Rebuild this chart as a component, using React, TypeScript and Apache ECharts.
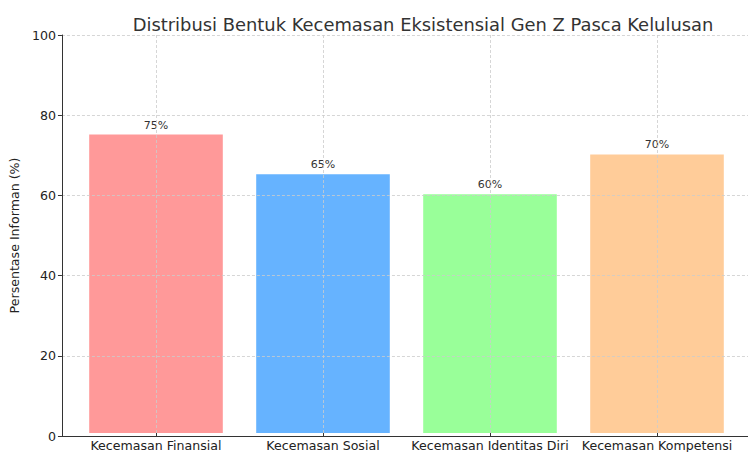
import React, { useEffect, useRef } from "react";
import * as echarts from "echarts";

const categories = [
  "Kecemasan Finansial",
  "Kecemasan Sosial",
  "Kecemasan Identitas Diri",
  "Kecemasan Kompetensi",
];
const values = [75, 65, 60, 70];
const barColors = ["#ff9999", "#66b3ff", "#99ff99", "#ffcc99"];
const yTicks = [0, 20, 40, 60, 80, 100];

const FONT = "DejaVu Sans";

export default function App() {
  const ref = useRef<HTMLDivElement>(null);
  useEffect(() => {
    if (!ref.current) return;
    const chart = echarts.init(ref.current, undefined, { renderer: "svg" });
    const gridLine = { show: true, lineStyle: { color: "#cccccc", type: [3, 2], width: 0.8 } };
    chart.setOption({
      animation: false,
      backgroundColor: "#ffffff",
      textStyle: { fontFamily: FONT },
      title: {
        text: "Distribusi Bentuk Kecemasan Eksistensial Gen Z Pasca Kelulusan",
        left: 418,
        textAlign: "center",
        top: 10,
        textStyle: { fontFamily: FONT, fontSize: 17.9, fontWeight: "normal", color: "#333333" },
      },
      grid: [
        { left: 58, right: -11, top: 35, bottom: 16 },
        { left: 72.5, right: 7.5, top: 35, bottom: 16 },
      ],
      xAxis: [
        {
          type: "value",
          gridIndex: 0,
          min: 0,
          max: 1,
          axisLine: { show: true, lineStyle: { color: "#333333", width: 1 } },
          axisTick: { show: false },
          axisLabel: { show: false },
          splitLine: { show: false },
          z: 4,
        },
        {
          type: "category",
          gridIndex: 1,
          data: categories,
          axisLine: { show: false },
          axisTick: { show: true, interval: 0, alignWithLabel: true, length: 4, lineStyle: { color: "#333333" } },
          axisLabel: { interval: 0, fontFamily: FONT, fontSize: 12.6, color: "#222222", margin: 6 },
          splitLine: { ...gridLine, interval: 0, alignWithLabel: true },
          z: 3,
        },
      ],
      yAxis: [
        {
          type: "value",
          gridIndex: 0,
          min: 0,
          max: 100,
          interval: 20,
          axisLine: { show: true, lineStyle: { color: "#333333", width: 1 } },
          axisTick: { show: true, length: 4, lineStyle: { color: "#333333" } },
          axisLabel: {
            fontFamily: FONT,
            fontSize: 12.6,
            color: "#222222",
            margin: 6,
            customValues: yTicks,
          },
          splitLine: gridLine,
          name: "Persentase Informan (%)",
          nameLocation: "middle",
          nameGap: 35,
          nameTextStyle: { fontFamily: FONT, fontSize: 12.6, color: "#222222" },
          z: 3,
        },
        {
          type: "value",
          gridIndex: 1,
          min: 0,
          max: 100,
          show: false,
        },
      ],
      series: [
        {
          type: "bar",
          xAxisIndex: 1,
          yAxisIndex: 1,
          barWidth: "80%",
          data: values.map((v, i) => ({ value: v, itemStyle: { color: barColors[i] } })),
          label: {
            show: true,
            position: "top",
            distance: 4,
            formatter: "{c}%",
            fontFamily: FONT,
            fontSize: 11,
            color: "#333333",
          },
          z: 2,
        },
      ],
    });
    return () => chart.dispose();
  }, []);
  return <div ref={ref} style={{ width: 748, height: 452, position: "absolute", left: 0, top: 0 }} />;
}
